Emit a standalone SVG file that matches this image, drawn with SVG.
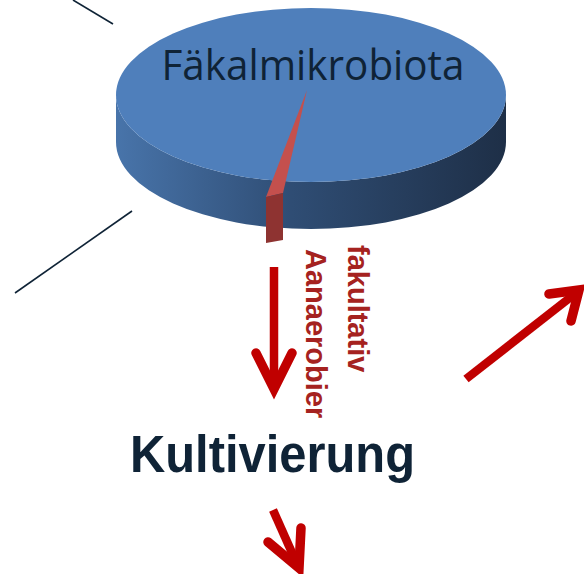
<svg xmlns="http://www.w3.org/2000/svg" width="584" height="574" viewBox="0 0 584 574">
<defs>
<linearGradient id="side" x1="116" y1="0" x2="506" y2="0" gradientUnits="userSpaceOnUse">
<stop offset="0" stop-color="#4874aa"/>
<stop offset="0.45" stop-color="#2f4d74"/>
<stop offset="1" stop-color="#1e2f47"/>
</linearGradient>
<style>
.arrow{fill:none;stroke:#c00000;stroke-width:9.5;stroke-linecap:round;stroke-linejoin:miter}
.shaft{fill:none;stroke:#c00000;stroke-width:8.5;stroke-linecap:butt}
.thin{stroke:#0f2336;stroke-width:1.6;fill:none}
.lbl{font-family:"Liberation Sans",Arial,sans-serif;font-weight:bold;font-size:29px;fill:#a52220}
</style>
</defs>
<rect width="584" height="574" fill="#ffffff"/>
<g id="pie">
<path d="M116,95 A195,87 0 0 0 506,95 L506,142 A195,87 0 0 1 116,142 Z" fill="url(#side)"/>
<ellipse cx="311" cy="95" rx="195" ry="87" fill="#4f7fbb"/>
<text x="313" y="80" text-anchor="middle" font-family="'Open Sans','Noto Sans',sans-serif" font-size="42" fill="#0f2336" textLength="303" lengthAdjust="spacingAndGlyphs">Fäkalmikrobiota</text>
</g>
<g id="slice">
<polygon points="307,90 283,193 266,197" fill="#c4504d"/>
<polygon points="266,197 283,193 283,240 266,243" fill="#8e3331"/>
</g>
<g id="labels">
<text class="lbl" transform="translate(348,245) rotate(90)">fakultativ</text>
<text class="lbl" transform="translate(306,249) rotate(90)">Aanaerobier</text>
</g>
<g id="kultivierung">
<text x="130" y="472" font-family="'Liberation Sans',Arial,sans-serif" font-weight="bold" font-size="51" fill="#0f2336" textLength="285" lengthAdjust="spacingAndGlyphs">Kultivierung</text>
</g>
<g id="connectors">
<line class="thin" x1="73" y1="0" x2="113" y2="24"/>
<line class="thin" x1="132" y1="211" x2="15" y2="293"/>
<line class="shaft" x1="274" y1="267" x2="274" y2="386"/>
<polyline class="arrow" points="256,353 274,389 292,353"/>
<line class="shaft" x1="466" y1="379" x2="576" y2="293"/>
<polyline class="arrow" points="549,294 579,290 571,321"/>
<line class="shaft" x1="273" y1="510" x2="297" y2="564"/>
<polyline class="arrow" points="268,542 299,568 301,528"/>
</g>
</svg>
